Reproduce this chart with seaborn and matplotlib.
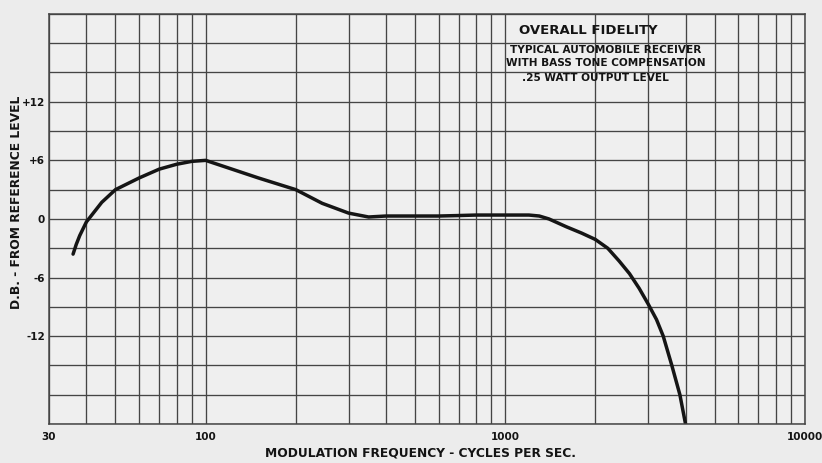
import matplotlib
matplotlib.use("Agg")
import matplotlib.pyplot as plt
import seaborn as sns
import pandas as pd

# Data
freq_hz = [36.1, 37, 38, 40, 45, 50, 60, 70, 80, 90, 100, 150, 200, 245, 300, 350, 400,
           500, 600, 700, 800, 1000, 1200, 1300, 1400, 1600, 1800, 2000, 2200, 2400,
           2600, 2800, 3000, 3200, 3370, 3600, 3830, 4000]
db_level = [-3.6, -2.6, -1.7, -0.3, 1.7, 3.0, 4.2, 5.1, 5.6, 5.9, 6.0, 4.2, 3.0, 1.6, 0.6, 0.2, 0.3,
            0.3, 0.3, 0.35, 0.4, 0.4, 0.4, 0.3, 0.0, -0.8, -1.45, -2.1, -3.0, -4.3,
            -5.6, -7.1, -8.7, -10.3, -12.0, -15.0, -18.0, -21.0]

x_tick_values = [30, 100, 1000, 10000]
x_tick_labels = ["30", "100", "1000", "10000"]
y_label_values = [12, 6, 0, -6, -12]
y_label_texts = ["+12", "+6", "0", "-6", "-12"]

title_lines = ["OVERALL FIDELITY", "TYPICAL AUTOMOBILE RECEIVER",
               "WITH BASS TONE COMPENSATION", ".25 WATT OUTPUT LEVEL"]
x_title = "MODULATION FREQUENCY - CYCLES PER SEC."
y_title = "D.B. - FROM REFERENCE LEVEL"

df = pd.DataFrame({"freq": freq_hz, "db": db_level})

sns.set_theme(style="white")
plt.rcParams["font.family"] = ["DejaVu Sans"]

bg = "#ececec"
gridc = "#454545"
textc = "#141414"

fig = plt.figure(figsize=(8.22, 4.63), dpi=100, facecolor=bg)
ax = fig.add_axes([0.0596, 0.0842, 0.9194, 0.8858])
ax.set_facecolor("#efefef")

sns.lineplot(data=df, x="freq", y="db", ax=ax, color="#151515", linewidth=2.5,
             sort=True, estimator=None)

ax.set_xscale("log")
ax.set_xlim(30, 10000)
ax.set_ylim(-21, 21)

# grid lines (log paper)
minor_x = [m * 10 ** e for e in (1, 2, 3) for m in range(2, 10) if 30 < m * 10 ** e < 10000]
ax.set_xticks(x_tick_values)
ax.set_xticklabels(x_tick_labels)
ax.set_xticks(minor_x, minor=True)
ax.set_xticklabels([], minor=True)

y_grid = list(range(-21, 22, 3))
ax.set_yticks(y_grid)
ax.set_yticklabels([y_label_texts[y_label_values.index(v)] if v in y_label_values else ""
                    for v in y_grid])

ax.grid(True, which="both", axis="both", color=gridc, linewidth=0.95)
ax.set_axisbelow(True)
for s in ax.spines.values():
    s.set_color(gridc)
    s.set_linewidth(1.1)

ax.tick_params(axis="both", which="both", length=0)
ax.tick_params(axis="x", pad=6, labelsize=7.5, labelcolor=textc)
ax.tick_params(axis="y", pad=3, labelsize=7.5, labelcolor=textc)
for lab in ax.get_xticklabels() + ax.get_yticklabels():
    lab.set_fontweight("bold")

ax.set_xlabel("")
ax.set_ylabel("")
fig.text(420 / 822, 1 - 453 / 463, x_title, ha="center", va="center",
         fontsize=8.8, fontweight="bold", color=textc)
fig.text(17 / 822, 1 - 202 / 463, y_title, ha="center", va="center", rotation=90,
         fontsize=8.8, fontweight="bold", color=textc)

# title block
fig.text(588 / 822, 1 - 30 / 463, title_lines[0], ha="center", va="center",
         fontsize=9.5, fontweight="bold", color=textc)
fig.text(606 / 822, 1 - 50 / 463, title_lines[1], ha="center", va="center",
         fontsize=7.6, fontweight="bold", color=textc)
fig.text(606 / 822, 1 - 63 / 463, title_lines[2], ha="center", va="center",
         fontsize=7.6, fontweight="bold", color=textc)
fig.text(595 / 822, 1 - 78 / 463, title_lines[3], ha="center", va="center",
         fontsize=7.6, fontweight="bold", color=textc)

fig.savefig("out.png", dpi=100, facecolor=bg)
